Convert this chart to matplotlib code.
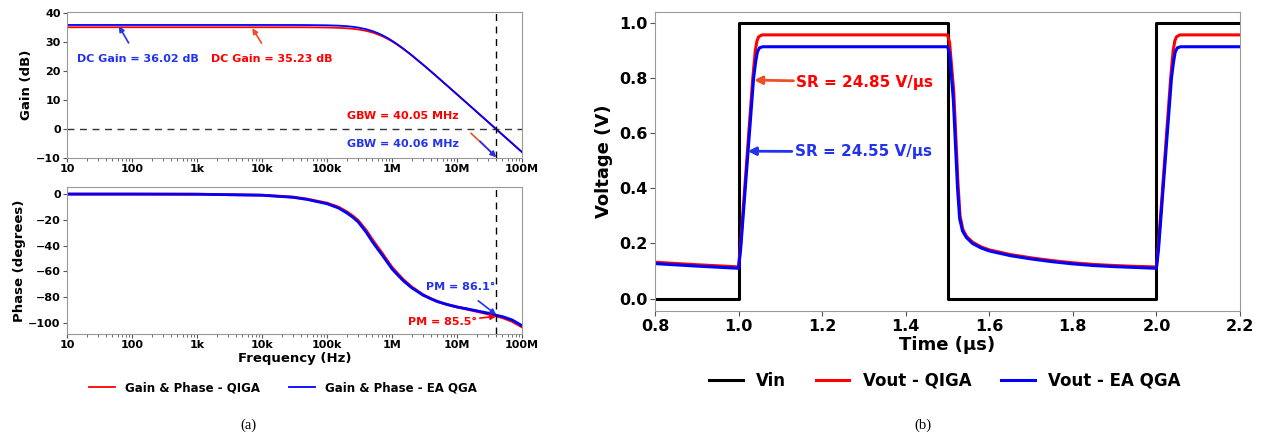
import matplotlib
matplotlib.use('Agg')
import matplotlib.pyplot as plt
from matplotlib.ticker import FixedLocator, FixedFormatter, LogLocator, NullFormatter

plt.rcParams['font.family'] = 'DejaVu Sans'
plt.rcParams['font.weight'] = 'bold'

# --- (a) AC response ---
freq = [10, 100, 1e3, 1e4, 3e4, 5e4, 1e5, 1.5e5, 2e5, 2.5e5, 3e5, 4e5, 5e5, 6e5,
        7e5, 8.5e5, 1e6, 1.2e6, 1.5e6, 2e6, 3e6, 4e6, 5e6, 7e6, 1e7, 1.5e7, 2e7,
        3e7, 4e7, 5e7, 7e7, 1e8]
gain_qiga = [35.23, 35.23, 35.23, 35.23, 35.22, 35.21, 35.14, 35.03, 34.88, 34.70,
             34.48, 33.98, 33.41, 32.80, 32.18, 31.24, 30.34, 29.21, 27.68, 25.53,
             22.28, 19.88, 17.98, 15.10, 12.02, 8.51, 6.02, 2.50, 0.0, -1.94, -4.86, -7.96]
gain_ea = [36.02, 36.02, 36.02, 36.02, 36.01, 35.99, 35.91, 35.78, 35.61, 35.39,
           35.14, 34.56, 33.91, 33.23, 32.55, 31.54, 30.58, 29.40, 27.81, 25.61,
           22.32, 19.90, 18.00, 15.11, 12.03, 8.52, 6.02, 2.50, 0.01, -1.93, -4.86, -7.95]
phase_qiga = [0, 0, -0.1, -0.8, -2.3, -3.9, -7.0, -10.1, -13.6, -17.0, -20.3, -28.0,
              -35.3, -41.0, -45.5, -51.7, -56.7, -61.2, -66.4, -71.9, -78.0, -81.1,
              -83.2, -85.6, -87.6, -89.5, -90.9, -92.9, -94.5, -95.8, -98.6, -103.0]
phase_ea = [0, 0, -0.1, -0.9, -2.5, -4.2, -7.5, -10.8, -14.5, -18.0, -21.5, -29.5,
            -37.0, -42.5, -47.0, -53.0, -58.0, -62.3, -67.3, -72.6, -78.4, -81.3,
            -83.4, -85.6, -87.5, -89.2, -90.5, -92.3, -93.9, -95.0, -97.5, -102.0]
f_gbw = 40.05e6
freq_ticks = [10, 100, 1e3, 1e4, 1e5, 1e6, 1e7, 1e8]
freq_labels = ['10', '100', '1k', '10k', '100k', '1M', '10M', '100M']

# --- (b) transient response ---
t_vin = [0.8, 1.0, 1.0, 1.5, 1.5, 2.0, 2.0, 2.2]
v_vin = [0, 0, 1, 1, 0, 0, 1, 1]
t_qiga = [0.8, 0.9, 1.0, 1.005, 1.034, 1.040, 1.044, 1.048, 1.056, 1.5,
          1.505, 1.515, 1.525, 1.530, 1.537, 1.546, 1.56, 1.58, 1.60, 1.65, 1.70,
          1.75, 1.80, 1.85, 1.90, 1.95, 2.0,
          2.005, 2.034, 2.040, 2.044, 2.048, 2.056, 2.2]
v_qiga = [0.132, 0.123, 0.115, 0.20, 0.80, 0.90, 0.935, 0.95, 0.957, 0.957,
          0.93, 0.75, 0.42, 0.30, 0.25, 0.225, 0.205, 0.188, 0.177, 0.160, 0.148,
          0.138, 0.130, 0.124, 0.120, 0.117, 0.115,
          0.20, 0.80, 0.90, 0.935, 0.95, 0.957, 0.957]
t_ea = [0.8, 0.9, 1.0, 1.005, 1.036, 1.041, 1.045, 1.050, 1.058, 1.5,
        1.505, 1.514, 1.524, 1.529, 1.536, 1.545, 1.56, 1.58, 1.60, 1.65, 1.70,
        1.75, 1.80, 1.85, 1.90, 1.95, 2.0,
        2.005, 2.036, 2.041, 2.045, 2.050, 2.058, 2.2]
v_ea = [0.127, 0.118, 0.110, 0.18, 0.80, 0.86, 0.895, 0.910, 0.914, 0.914,
        0.89, 0.72, 0.40, 0.29, 0.245, 0.222, 0.200, 0.184, 0.173, 0.156, 0.144,
        0.134, 0.126, 0.120, 0.116, 0.113, 0.110,
        0.18, 0.80, 0.86, 0.895, 0.910, 0.914, 0.914]

RED = '#ff0000'
BLUE = '#0000ff'
ARED = '#f04e23'
ABLUE = '#2233ee'
SPINE = '#999999'

fig = plt.figure(figsize=(12.63, 4.37), dpi=100)
ax_g = fig.add_axes([0.0530, 0.6384, 0.3603, 0.3341])
ax_p = fig.add_axes([0.0530, 0.2357, 0.3603, 0.3364])
ax_t = fig.add_axes([0.5186, 0.2883, 0.4632, 0.6842])


def style_log(ax):
    ax.set_xscale('log')
    ax.set_xlim(10, 1e8)
    ax.xaxis.set_major_locator(FixedLocator(freq_ticks))
    ax.xaxis.set_major_formatter(FixedFormatter(freq_labels))
    ax.xaxis.set_minor_locator(LogLocator(base=10, subs=range(2, 10), numticks=20))
    ax.xaxis.set_minor_formatter(NullFormatter())
    ax.tick_params(axis='both', which='major', labelsize=8, length=3, color='#555555', pad=1.5)
    ax.tick_params(axis='x', which='minor', length=1.8, color='#555555')
    for s in ax.spines.values():
        s.set_color(SPINE)


# gain
ax_g.plot(freq, gain_qiga, color=RED, lw=1.3)
ax_g.plot(freq, gain_ea, color=BLUE, lw=1.3)
ax_g.axhline(0, color='#333333', lw=1, ls=(0, (5, 4)))
ax_g.axvline(f_gbw, color='black', lw=1, ls=(0, (5, 4)))
ax_g.set_ylim(-10, 40.5)
ax_g.set_yticks([-10, 0, 10, 20, 30, 40])
ax_g.set_ylabel('Gain (dB)', fontsize=9.5, fontweight='bold', labelpad=2)
style_log(ax_g)

ax_g.annotate('DC Gain = 36.02 dB', xy=(63, 35.6), xytext=(124, 24.2),
              color=ABLUE, fontsize=8, fontweight='bold', ha='center', va='center',
              arrowprops=dict(arrowstyle='-|>', color=ABLUE, lw=1.2, mutation_scale=8,
                              shrinkA=7, shrinkB=0))
ax_g.annotate('DC Gain = 35.23 dB', xy=(7.1e3, 34.9), xytext=(14e3, 24.2),
              color=RED, fontsize=8, fontweight='bold', ha='center', va='center',
              arrowprops=dict(arrowstyle='-|>', color=ARED, lw=1.2, mutation_scale=8,
                              shrinkA=7, shrinkB=0))
ax_g.text(1.48e6, 4.4, 'GBW = 40.05 MHz', color=RED, fontsize=8, fontweight='bold',
          ha='center', va='center')
ax_g.text(1.5e6, -5.2, 'GBW = 40.06 MHz', color=ABLUE, fontsize=8, fontweight='bold',
          ha='center', va='center')
ax_g.annotate('', xy=(f_gbw, -9.7), xytext=(16.4e6, -1.4),
              arrowprops=dict(arrowstyle='-|>', color=ARED, lw=1.2, mutation_scale=8,
                              shrinkA=0, shrinkB=0))
ax_g.annotate('', xy=(f_gbw, -9.7), xytext=(22.6e6, -4.2),
              arrowprops=dict(arrowstyle='-|>', color=ABLUE, lw=1.2, mutation_scale=8,
                              shrinkA=0, shrinkB=0))

# phase
l1, = ax_p.plot(freq, phase_qiga, color=RED, lw=2)
l2, = ax_p.plot(freq, phase_ea, color=BLUE, lw=2)
ax_p.axvline(f_gbw, color='black', lw=1, ls=(0, (5, 4)))
ax_p.set_ylim(-108.5, 5.5)
ax_p.set_yticks([-100, -80, -60, -40, -20, 0])
ax_p.set_ylabel('Phase (degrees)', fontsize=9.5, fontweight='bold', labelpad=2)
ax_p.set_xlabel('Frequency (Hz)', fontsize=9.5, fontweight='bold', labelpad=1)
style_log(ax_p)

ax_p.annotate('PM = 86.1°', xy=(f_gbw, -93.5), xytext=(11.3e6, -72.1),
              color=ABLUE, fontsize=8, fontweight='bold', ha='center', va='center',
              arrowprops=dict(arrowstyle='-|>', color=ABLUE, lw=1.2, mutation_scale=8,
                              shrinkA=7, shrinkB=0))
ax_p.annotate('PM = 85.5°', xy=(f_gbw, -94.8), xytext=(6.0e6, -99.2),
              color=RED, fontsize=8, fontweight='bold', ha='center', va='center',
              arrowprops=dict(arrowstyle='-|>', color=RED, lw=1.2, mutation_scale=8,
                              shrinkA=30, shrinkB=0))

leg_a = fig.legend([l1, l2], ['Gain & Phase - QIGA', 'Gain & Phase - EA QGA'],
                   loc='center', bbox_to_anchor=(283 / 1263, 1 - 388 / 437), ncol=2,
                   frameon=False, fontsize=8.5, handlelength=2.2, columnspacing=2.5)
for h in leg_a.legend_handles:
    h.set_linewidth(1.3)

# transient
lv, = ax_t.plot(t_vin, v_vin, color='black', lw=2.2)
lq, = ax_t.plot(t_qiga, v_qiga, color=RED, lw=2.2)
le, = ax_t.plot(t_ea, v_ea, color=BLUE, lw=2.2)
ax_t.set_xlim(0.8, 2.2)
ax_t.set_ylim(-0.045, 1.04)
ax_t.set_xticks([0.8, 1.0, 1.2, 1.4, 1.6, 1.8, 2.0, 2.2])
ax_t.set_yticks([0.0, 0.2, 0.4, 0.6, 0.8, 1.0])
ax_t.xaxis.set_major_formatter(plt.FuncFormatter(lambda v, p: f'{v:.1f}'))
ax_t.yaxis.set_major_formatter(plt.FuncFormatter(lambda v, p: f'{v:.1f}'))
ax_t.tick_params(axis='both', labelsize=11.5, length=3.5, color='#555555', pad=2)
for s in ax_t.spines.values():
    s.set_color(SPINE)
ax_t.set_xlabel('Time (μs)', fontsize=13, fontweight='bold', labelpad=2)
ax_t.set_ylabel('Voltage (V)', fontsize=13, fontweight='bold', labelpad=4)

ax_t.annotate('SR = 24.85 V/μs', xy=(1.037, 0.793), xytext=(1.302, 0.786),
              color=RED, fontsize=11, fontweight='bold', ha='center', va='center',
              arrowprops=dict(arrowstyle='-|>', color=ARED, lw=2, mutation_scale=12,
                              shrinkA=62, shrinkB=0))
ax_t.annotate('SR = 24.55 V/μs', xy=(1.022, 0.535), xytext=(1.298, 0.533),
              color=ABLUE, fontsize=11, fontweight='bold', ha='center', va='center',
              arrowprops=dict(arrowstyle='-|>', color=ABLUE, lw=2, mutation_scale=12,
                              shrinkA=62, shrinkB=0))

fig.legend([lv, lq, le], ['Vin', 'Vout - QIGA', 'Vout - EA QGA'],
           loc='center', bbox_to_anchor=(945 / 1263, 1 - 381 / 437), ncol=3,
           frameon=False, fontsize=12, handlelength=2.0, columnspacing=1.8)

fig.text(248 / 1263, 1 - 425 / 437, '(a)', fontsize=10.5, fontweight='normal',
         family='Liberation Serif', ha='center', va='center')
fig.text(923 / 1263, 1 - 425 / 437, '(b)', fontsize=10.5, fontweight='normal',
         family='Liberation Serif', ha='center', va='center')

fig.savefig('out.png', dpi=100)
